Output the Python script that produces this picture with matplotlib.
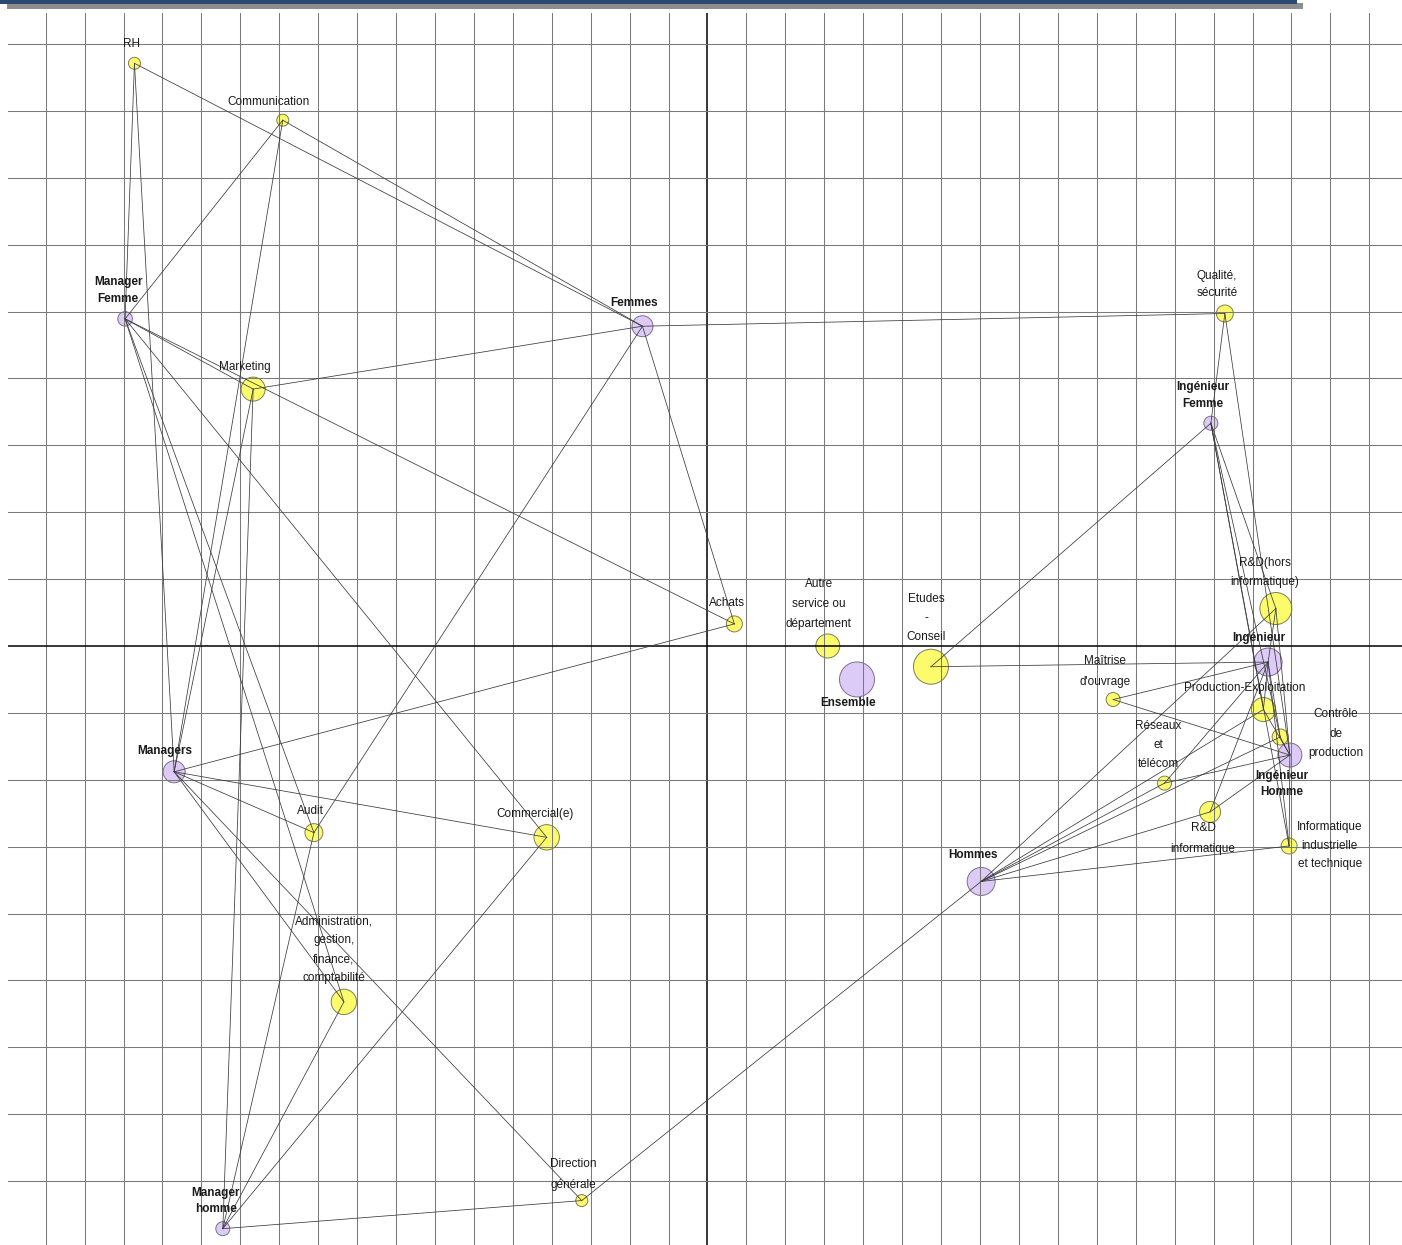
import matplotlib
matplotlib.use("Agg")
import matplotlib.pyplot as plt
from matplotlib.patches import Rectangle

# ---------------- data ----------------
# modalities (yellow) : services
services = ["RH", "Communication", "Marketing", "Qualité,\nsécurité",
            "R&D(hors\ninformatique)", "Achats", "Autre\nservice ou\ndépartement",
            "Etudes\n-\nConseil", "Maîtrise\nd'ouvrage", "Production-Exploitation",
            "Contrôle\nde\nproduction", "Réseaux\net\ntélécom", "R&D\ninformatique",
            "Informatique\nindustrielle\net technique", "Audit", "Commercial(e)",
            "Administration,\ngestion,\nfinance,\ncomptabilité", "Direction\ngénérale"]
services_x = [-1.472, -1.091, -1.167, 1.329, 1.460, 0.069, 0.309, 0.574, 1.042, 1.428,
              1.471, 1.174, 1.291, 1.494, -1.011, -0.413, -0.934, -0.323]
services_y = [0.871, 0.786, 0.384, 0.497, 0.056, 0.033, 0.000, -0.031, -0.080, -0.095,
              -0.136, -0.205, -0.248, -0.299, -0.279, -0.286, -0.532, -0.829]
services_poids = [36, 36, 144, 72, 256, 64, 144, 306, 49, 144, 64, 49, 110, 64, 81, 161, 161, 36]

# groups (purple)
groupes = ["Manager\nFemme", "Femmes", "Ingénieur\nFemme", "Ensemble", "Ingénieur",
           "Ingénieur\nHomme", "Managers", "Hommes", "Manager\nhomme"]
groupes_x = [-1.496, -0.167, 1.293, 0.384, 1.440, 1.496, -1.370, 0.703, -1.245]
groupes_y = [0.489, 0.478, 0.333, -0.050, -0.024, -0.163, -0.188, -0.352, -0.871]
groupes_poids = [53, 110, 49, 306, 196, 144, 121, 196, 49]

# links service -> group
liens = [
    ("RH", "Femmes"), ("RH", "Manager\nFemme"), ("RH", "Managers"),
    ("Communication", "Femmes"), ("Communication", "Manager\nFemme"), ("Communication", "Managers"),
    ("Marketing", "Femmes"), ("Marketing", "Manager\nFemme"), ("Marketing", "Managers"),
    ("Marketing", "Manager\nhomme"),
    ("Achats", "Femmes"), ("Achats", "Manager\nFemme"), ("Achats", "Managers"),
    ("Audit", "Femmes"), ("Audit", "Manager\nFemme"), ("Audit", "Managers"), ("Audit", "Manager\nhomme"),
    ("Commercial(e)", "Manager\nFemme"), ("Commercial(e)", "Managers"), ("Commercial(e)", "Manager\nhomme"),
    ("Administration,\ngestion,\nfinance,\ncomptabilité", "Manager\nFemme"),
    ("Administration,\ngestion,\nfinance,\ncomptabilité", "Managers"),
    ("Administration,\ngestion,\nfinance,\ncomptabilité", "Manager\nhomme"),
    ("Direction\ngénérale", "Managers"), ("Direction\ngénérale", "Manager\nhomme"),
    ("Direction\ngénérale", "Hommes"),
    ("Qualité,\nsécurité", "Femmes"), ("Qualité,\nsécurité", "Ingénieur\nFemme"),
    ("Qualité,\nsécurité", "Ingénieur\nHomme"),
    ("Etudes\n-\nConseil", "Ingénieur\nFemme"), ("Etudes\n-\nConseil", "Ingénieur"),
    ("Maîtrise\nd'ouvrage", "Ingénieur"), ("Maîtrise\nd'ouvrage", "Ingénieur\nHomme"),
    ("R&D(hors\ninformatique)", "Hommes"), ("R&D(hors\ninformatique)", "Ingénieur"),
    ("R&D(hors\ninformatique)", "Ingénieur\nFemme"), ("R&D(hors\ninformatique)", "Ingénieur\nHomme"),
    ("Production-Exploitation", "Hommes"), ("Production-Exploitation", "Ingénieur"),
    ("Production-Exploitation", "Ingénieur\nFemme"), ("Production-Exploitation", "Ingénieur\nHomme"),
    ("Contrôle\nde\nproduction", "Hommes"), ("Contrôle\nde\nproduction", "Ingénieur"),
    ("Contrôle\nde\nproduction", "Ingénieur\nFemme"), ("Contrôle\nde\nproduction", "Ingénieur\nHomme"),
    ("Réseaux\net\ntélécom", "Hommes"), ("Réseaux\net\ntélécom", "Ingénieur"),
    ("Réseaux\net\ntélécom", "Ingénieur\nHomme"),
    ("R&D\ninformatique", "Hommes"), ("R&D\ninformatique", "Ingénieur"),
    ("R&D\ninformatique", "Ingénieur\nHomme"),
    ("Informatique\nindustrielle\net technique", "Hommes"),
    ("Informatique\nindustrielle\net technique", "Ingénieur"),
    ("Informatique\nindustrielle\net technique", "Ingénieur\nFemme"),
    ("Informatique\nindustrielle\net technique", "Ingénieur\nHomme"),
]

# ---------------- layout ----------------
W, H = 1402, 1245
fig = plt.figure(figsize=(W / 100, H / 100), dpi=100)
fig.patch.set_facecolor("white")

# header banner
fig.add_artist(Rectangle((7 / W, 1 - 9 / H), (1303 - 7) / W, 6 / H,
                         transform=fig.transFigure, color="#8e8e8e", lw=0))
fig.add_artist(Rectangle((0, 1 - 3.5 / H), 1297 / W, 3.5 / H,
                         transform=fig.transFigure, color="#2c4a70", lw=0))

ax = fig.add_axes([8 / W, 0, (W - 8) / W, (H - 13) / H])
ax.set_xlim(-1.7968, 1.7840)
ax.set_ylim(-0.8954, 0.9462)
ax.axis("off")

# grid
for k in range(-17, 18):
    if k == 0:
        ax.axvline(0, color="black", lw=1.1, zorder=3)
    else:
        ax.axvline(k / 10, color="#7a7a7a", lw=0.75, zorder=3)
for j in range(-8, 10):
    if j == 0:
        ax.axhline(0, color="black", lw=1.1, zorder=3)
    else:
        ax.axhline(j / 10, color="#7a7a7a", lw=0.75, zorder=3)

pos = {}
for n, x, y in zip(services, services_x, services_y):
    pos[n] = (x, y)
for n, x, y in zip(groupes, groupes_x, groupes_y):
    pos[n] = (x, y)

k_size = 1.44 ** 2
ax.scatter(services_x, services_y, s=[p * k_size for p in services_poids],
           facecolor="#fbfb6c", edgecolor="#7d7d55", linewidth=0.7, zorder=2)
ax.scatter(groupes_x, groupes_y, s=[p * k_size for p in groupes_poids],
           facecolor="#dccbf7", edgecolor="#7c6e8c", linewidth=0.7, zorder=2)

for a, b in liens:
    (x1, y1), (x2, y2) = pos[a], pos[b]
    ax.plot([x1, x2], [y1, y2], color="#3a3a3a", lw=0.55, zorder=4)

# label offsets (pixels): dx, dy (down positive), line spacing
label_off = {
    "RH": (-3, -19, 18), "Communication": (-14, -18, 18), "Marketing": (-8, -22, 18),
    "Qualité,\nsécurité": (-8, -29.5, 17), "R&D(hors\ninformatique)": (-11, -36.5, 19),
    "Achats": (-7, -21, 18), "Autre\nservice ou\ndépartement": (-9, -42, 20),
    "Etudes\n-\nConseil": (-5, -49, 19), "Maîtrise\nd'ouvrage": (-8, -28.5, 21),
    "Production-Exploitation": (-19, -22, 18), "Contrôle\nde\nproduction": (56, -3, 19.5),
    "Réseaux\net\ntélécom": (-6, -38, 19), "R&D\ninformatique": (-7, 26.5, 21),
    "Informatique\nindustrielle\net technique": (40.5, -0.5, 18.5),
    "Audit": (-4, -22, 18), "Commercial(e)": (-12, -23, 18),
    "Administration,\ngestion,\nfinance,\ncomptabilité": (-10, -52, 19),
    "Direction\ngénérale": (-8, -26.5, 21),
    "Manager\nFemme": (-7, -28, 17), "Femmes": (-8, -23, 17), "Ingénieur\nFemme": (-8.5, -28, 17),
    "Ensemble": (-9, 24, 17), "Ingénieur": (-9, -24, 17), "Ingénieur\nHomme": (-8.5, 29, 16),
    "Managers": (-9, -21, 17), "Hommes": (-8, -26, 17), "Manager\nhomme": (-7, -28, 16),
}

font = ["Liberation Sans", "DejaVu Sans"]


def draw_label(name, bold):
    dx, dy, sp = label_off[name]
    lines = name.split("\n")
    n = len(lines)
    for i, t in enumerate(lines):
        yy = dy + (i - (n - 1) / 2) * sp
        ax.annotate(t, xy=pos[name], xytext=(dx * 0.72, -yy * 0.72),
                    textcoords="offset points", ha="center", va="center",
                    fontsize=8.5, family=font, color="#1a1a1a",
                    fontweight="bold" if bold else "normal", zorder=5)


for n in services:
    draw_label(n, False)
for n in groupes:
    draw_label(n, True)

fig.savefig("out.png", dpi=100)
